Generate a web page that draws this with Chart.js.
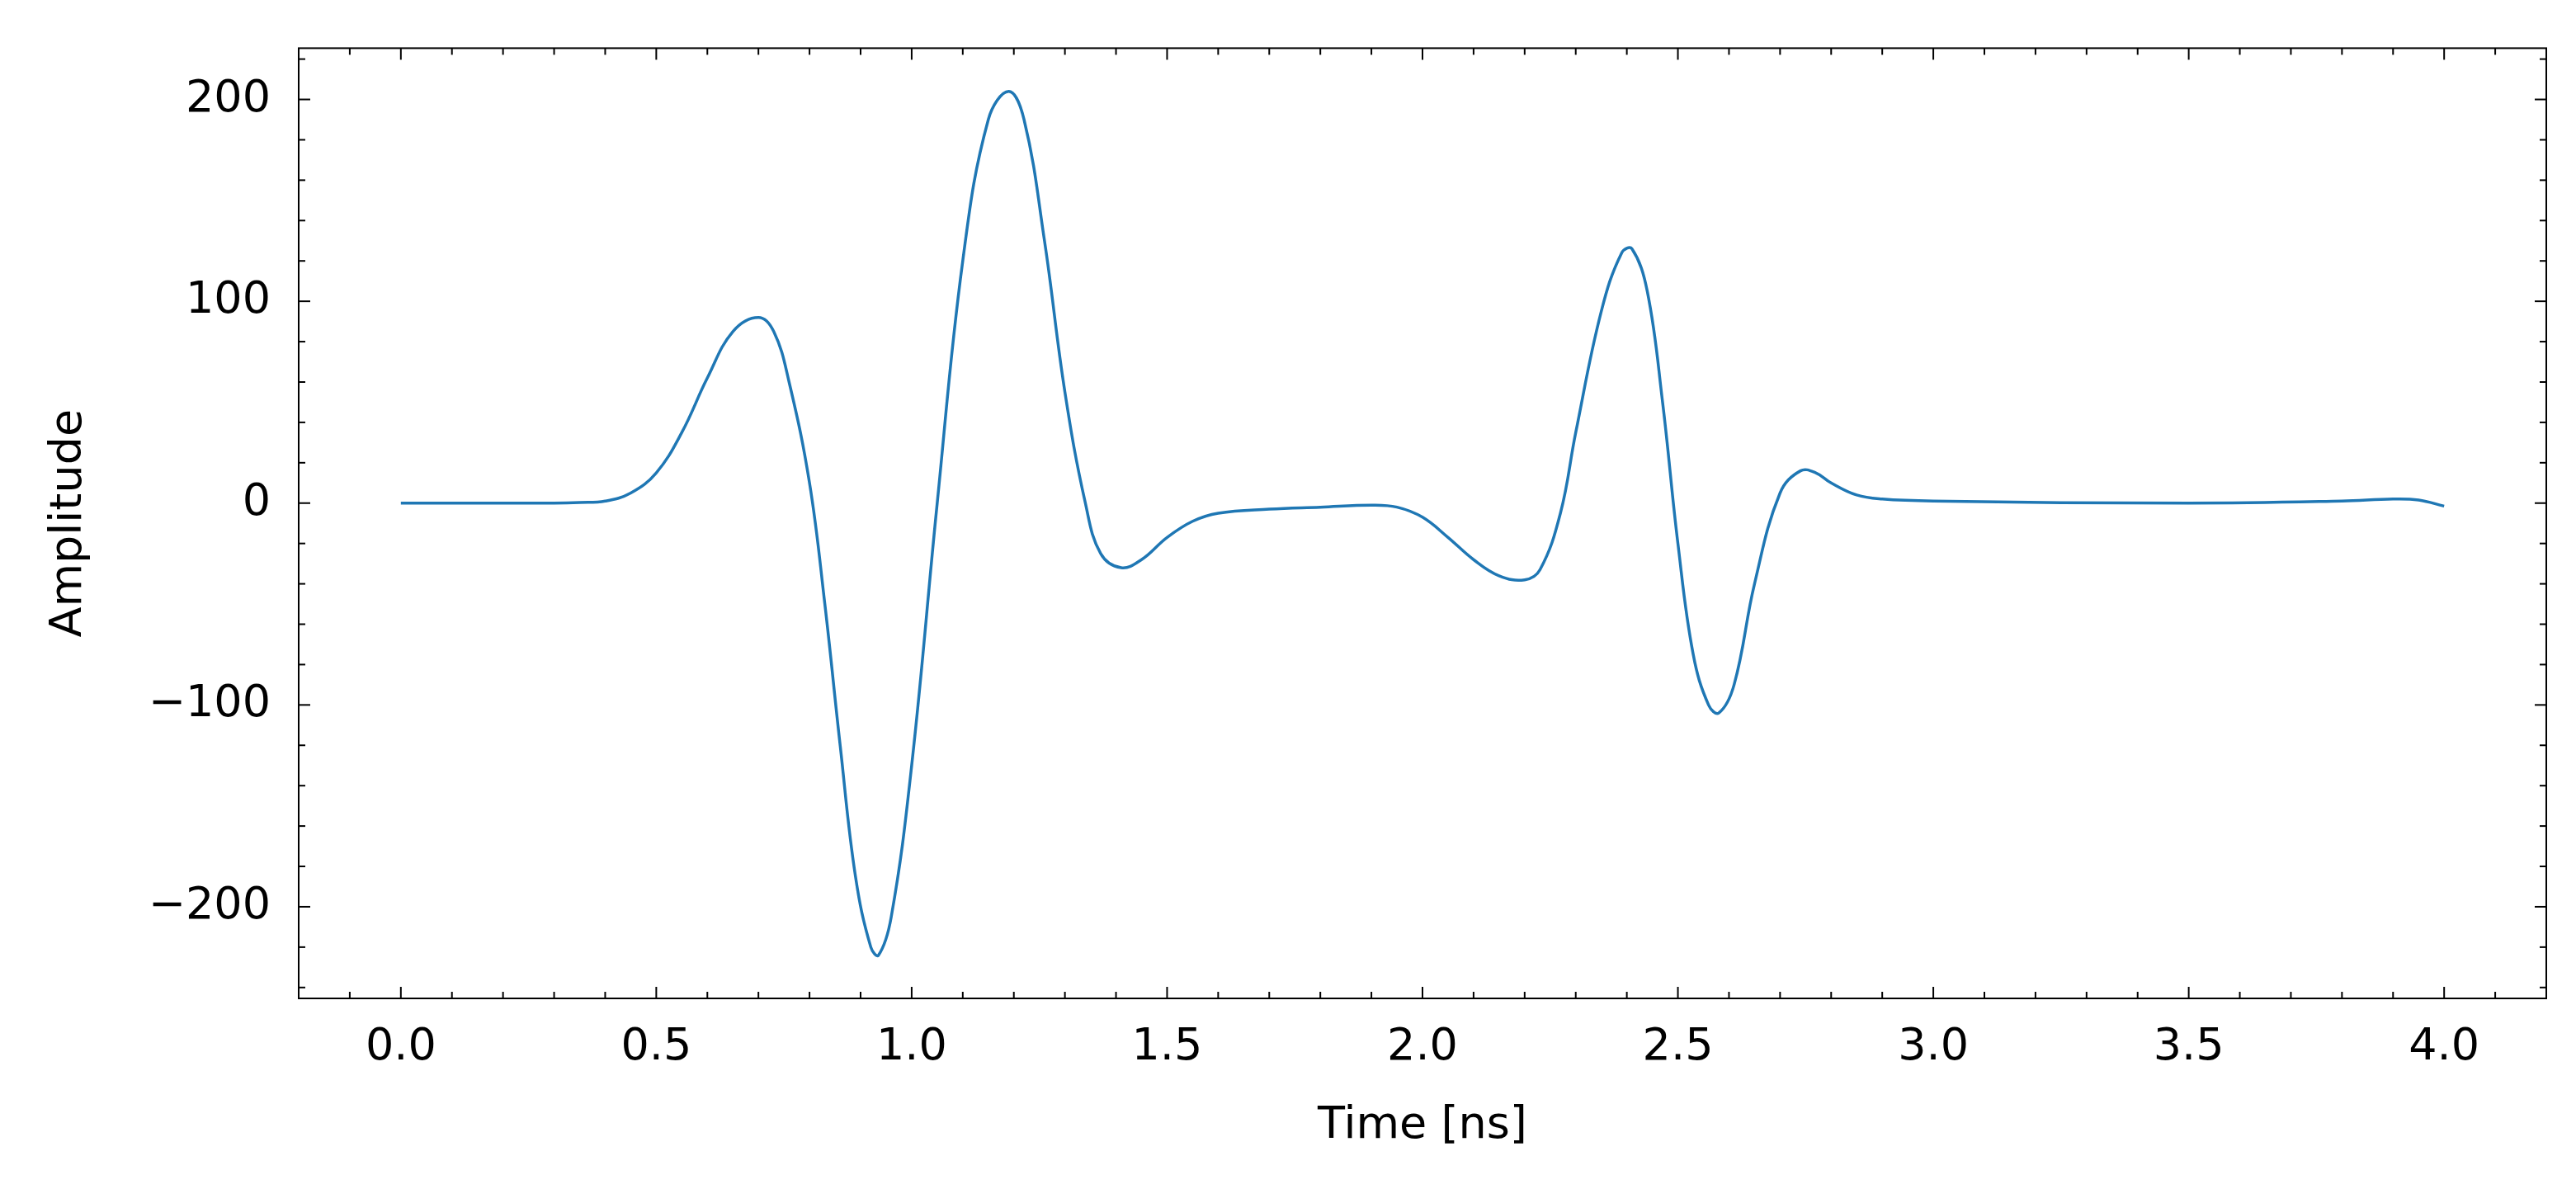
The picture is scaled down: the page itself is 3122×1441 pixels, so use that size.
<!DOCTYPE html>
<html><head><meta charset="utf-8">
<script src="https://cdn.jsdelivr.net/npm/chart.js@4"></script>
<style>html,body{margin:0;padding:0;background:#fff}#c{display:block}</style>
</head><body>
<div style="width:3122px;height:1441px"><canvas id="c"></canvas></div>
<script>
const timeNs = [0,0.1,0.2,0.3,0.35,0.4,0.45,0.5,0.55,0.6,0.65,0.7,0.73,0.76,0.8,0.83,0.86,0.89,0.92,0.935,0.96,1.0,1.05,1.1,1.15,1.19,1.22,1.26,1.3,1.34,1.37,1.41,1.45,1.5,1.55,1.6,1.7,1.8,1.9,1.95,2.0,2.05,2.1,2.15,2.2,2.23,2.27,2.3,2.35,2.39,2.41,2.44,2.47,2.5,2.53,2.56,2.58,2.61,2.65,2.7,2.74,2.77,2.8,2.85,2.9,3.0,3.5,3.8,3.9,3.95,4.0];
const amplitude = [0,0,0,0,0.3,1,5,15,35,62,85,92,85,60,10,-50,-120,-185,-220,-224,-205,-130,0,120,190,204,190,130,55,0,-25,-32,-28,-17,-9,-5,-3,-2,-1,-2,-7,-17,-28,-36,-38,-33,-5,35,95,124,126,105,50,-20,-75,-100,-104,-90,-40,5,16,15,10,4,2,1,0,1,2,1.5,-1.5];
const xMajor = [0,0.5,1,1.5,2,2.5,3,3.5,4];
const yMajor = [-200,-100,0,100,200];

const ticksPlugin = {
  id:'inticks',
  afterDraw(chart){
    const {ctx, chartArea:a, scales:{x,y}} = chart;
    ctx.save(); ctx.strokeStyle='#000'; ctx.lineWidth=2;
    ctx.strokeRect(a.left,a.top,a.right-a.left,a.bottom-a.top);
    const line=(x1,y1,x2,y2)=>{ctx.beginPath();ctx.moveTo(x1,y1);ctx.lineTo(x2,y2);ctx.stroke();};
    for(let i=-2;i<=42;i++){const v=i/10; const px=x.getPixelForValue(v); if(px<a.left-0.5||px>a.right+0.5) continue;
      const L = (i%5===0)?14:8; line(px,a.bottom,px,a.bottom-L); line(px,a.top,px,a.top+L);}
    for(let v=-240;v<=220;v+=20){const py=y.getPixelForValue(v); if(py<a.top||py>a.bottom) continue;
      const L=(v%100===0)?14:8; line(a.left,py,a.left+L,py); line(a.right,py,a.right-L,py);}
    ctx.restore();
  }
};

new Chart(document.getElementById('c'),{
  type:'line',
  data:{datasets:[{data:timeNs.map((t,i)=>({x:t,y:amplitude[i]})),borderColor:'#1f77b4',borderWidth:3.5,pointRadius:0,tension:0.4,fill:false}]},
  options:{responsive:true,maintainAspectRatio:false,animation:false,
    layout:{padding:{top:50,right:36,left:48,bottom:40}},
    plugins:{legend:{display:false},tooltip:{enabled:false}},
    scales:{
      x:{type:'linear',min:-0.2,max:4.2,
        afterFit(s){s.height=191;},
        afterBuildTicks(s){s.ticks=xMajor.map(v=>({value:v}));},
        grid:{display:false},border:{display:false},
        ticks:{padding:20,color:'#000',font:{family:'DejaVu Sans',size:54},callback:v=>v.toFixed(1),maxRotation:0,autoSkip:false},
        title:{display:true,text:'Time [ns]',color:'#000',font:{family:'DejaVu Sans',size:54},padding:{top:10}}},
      y:{min:-245.4,max:225.4,
        afterFit(s){s.width=314;},
        afterBuildTicks(s){s.ticks=yMajor.map(v=>({value:v}));},
        grid:{display:false},border:{display:false},
        ticks:{padding:26,color:'#000',font:{family:'DejaVu Sans',size:54},callback:v=>String(v).replace('-','\u2212'),autoSkip:false},
        title:{display:true,text:'Amplitude',color:'#000',font:{family:'DejaVu Sans',size:54},padding:{bottom:10}}}
    }},
  plugins:[ticksPlugin]
});
</script></body></html>
